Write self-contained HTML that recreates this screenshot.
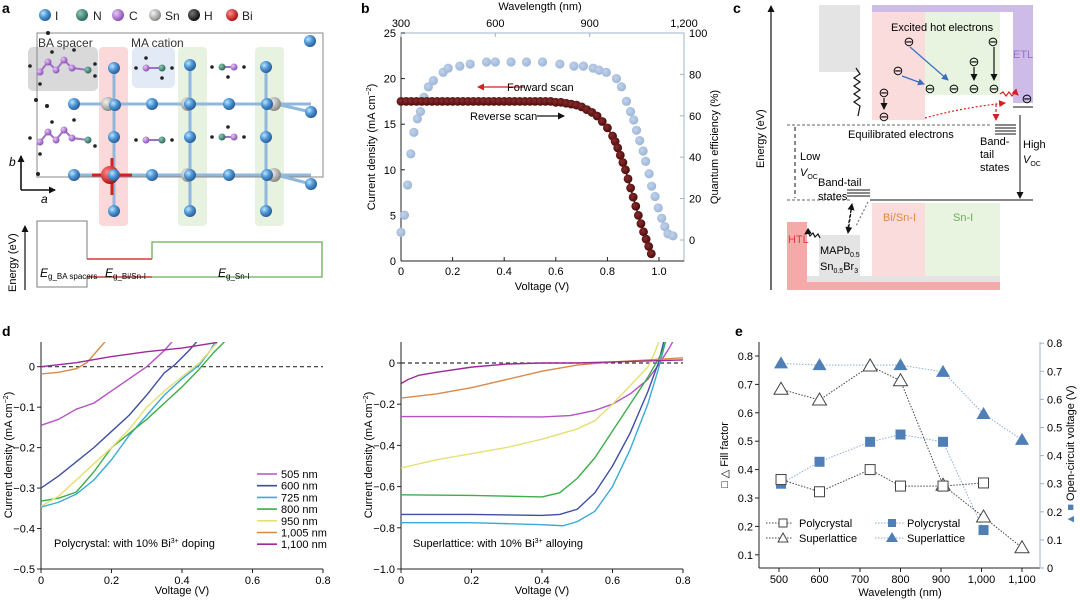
<!DOCTYPE html>
<html><head><meta charset="utf-8"><style>
body{margin:0;background:#fff}
svg{display:block;font-family:"Liberation Sans",sans-serif}
</style></head><body>
<svg id="fig" width="1080" height="601" viewBox="0 0 1080 601" xmlns="http://www.w3.org/2000/svg">
<defs>
<radialGradient id="gI" cx="35%" cy="35%" r="65%"><stop offset="0" stop-color="#bfe3ff"/><stop offset="0.5" stop-color="#4f9ad8"/><stop offset="1" stop-color="#2c5f9a"/></radialGradient>
<radialGradient id="gSn" cx="35%" cy="35%" r="65%"><stop offset="0" stop-color="#f4f4f4"/><stop offset="1" stop-color="#8a8a84"/></radialGradient>
<radialGradient id="gBi" cx="35%" cy="35%" r="65%"><stop offset="0" stop-color="#ff8a8a"/><stop offset="1" stop-color="#b01010"/></radialGradient>
<radialGradient id="gN" cx="35%" cy="35%" r="65%"><stop offset="0" stop-color="#8fc8b8"/><stop offset="1" stop-color="#2a6a5c"/></radialGradient>
<radialGradient id="gC" cx="35%" cy="35%" r="65%"><stop offset="0" stop-color="#e6c8f5"/><stop offset="1" stop-color="#8a50b8"/></radialGradient>
<radialGradient id="gH" cx="35%" cy="35%" r="65%"><stop offset="0" stop-color="#777"/><stop offset="1" stop-color="#111"/></radialGradient>
<radialGradient id="gQ" cx="40%" cy="40%" r="60%"><stop offset="0" stop-color="#c2d3ea"/><stop offset="1" stop-color="#9db6d8"/></radialGradient>
<radialGradient id="gR" cx="40%" cy="40%" r="60%"><stop offset="0" stop-color="#8a2c2c"/><stop offset="1" stop-color="#4a0c0c"/></radialGradient>
<clipPath id="clipDL"><rect x="41" y="342" width="290" height="230"/></clipPath>
<clipPath id="clipDR"><rect x="401" y="342" width="290" height="230"/></clipPath>
<marker id="arK" markerUnits="userSpaceOnUse" markerWidth="7" markerHeight="7" refX="6" refY="3.5" orient="auto"><path d="M0,0 L7,3.5 L0,7 z" fill="#111"/></marker>
<marker id="arR" markerUnits="userSpaceOnUse" markerWidth="7" markerHeight="7" refX="6" refY="3.5" orient="auto"><path d="M0,0 L7,3.5 L0,7 z" fill="#d42020"/></marker>
<marker id="arB" markerUnits="userSpaceOnUse" markerWidth="7" markerHeight="7" refX="6" refY="3.5" orient="auto"><path d="M0,0 L7,3.5 L0,7 z" fill="#3a6fc0"/></marker>
</defs>

<!-- ============ PANEL A ============ -->
<g id="panelA">
<text x="2" y="13" font-size="14" font-weight="bold">a</text>
<g font-size="12" fill="#222">
<circle cx="45" cy="15" r="6" fill="url(#gI)"/><text x="55" y="20">I</text>
<circle cx="82" cy="15" r="6" fill="url(#gN)"/><text x="93" y="20">N</text>
<circle cx="118" cy="15" r="6" fill="url(#gC)"/><text x="129" y="20">C</text>
<circle cx="155" cy="15" r="6" fill="url(#gSn)"/><text x="165" y="20">Sn</text>
<circle cx="194" cy="15" r="6" fill="url(#gH)"/><text x="204" y="20">H</text>
<circle cx="232" cy="15" r="6" fill="url(#gBi)"/><text x="242" y="20">Bi</text>
</g>
<rect x="28" y="47" width="70" height="44" rx="5" fill="#d9d9d9"/>
<rect x="99" y="47" width="29" height="179" rx="4" fill="#fbd9da"/>
<rect x="132" y="47" width="43" height="41" rx="5" fill="#e2eaf6"/>
<rect x="178" y="47" width="29" height="179" rx="4" fill="#e7f2e1"/>
<rect x="255" y="47" width="29" height="179" rx="4" fill="#e7f2e1"/>
<rect x="37" y="33" width="286" height="144" fill="none" stroke="#888" stroke-width="1"/>
<text x="38" y="47" font-size="12" fill="#333">BA spacer</text>
<text x="131" y="47" font-size="12" fill="#333">MA cation</text>
<g stroke="#8fb8dc" stroke-width="3">
<line x1="74" y1="104" x2="311" y2="104"/><line x1="74" y1="175" x2="311" y2="175"/>
<line x1="114" y1="68" x2="114" y2="211"/><line x1="190" y1="65" x2="190" y2="211"/><line x1="266" y1="67" x2="266" y2="211"/>
<line x1="276" y1="104" x2="311" y2="112"/><line x1="276" y1="175" x2="311" y2="184"/>
</g>
<g stroke="#d42020" stroke-width="3"><line x1="92" y1="175" x2="132" y2="175"/><line x1="112" y1="158" x2="112" y2="195"/></g>
<g>
<circle cx="108" cy="104" r="7" fill="url(#gSn)"/><circle cx="188" cy="104" r="7" fill="url(#gSn)"/><circle cx="274" cy="104" r="7" fill="url(#gSn)"/>
<circle cx="188" cy="175" r="7" fill="url(#gSn)"/><circle cx="274" cy="175" r="7" fill="url(#gSn)"/>
<circle cx="110" cy="175" r="9" fill="url(#gBi)"/>
</g>
<g fill="url(#gI)">
<circle cx="310" cy="41" r="6"/><circle cx="114" cy="68" r="6"/><circle cx="190" cy="65" r="6"/><circle cx="266" cy="67" r="6"/>
<circle cx="74" cy="104" r="6"/><circle cx="115" cy="105" r="6"/><circle cx="152" cy="104" r="6"/><circle cx="190" cy="104" r="6"/><circle cx="229" cy="104" r="6"/><circle cx="267" cy="104" r="6"/><circle cx="311" cy="112" r="6"/>
<circle cx="114" cy="137" r="6"/><circle cx="190" cy="137" r="6"/><circle cx="266" cy="137" r="6"/>
<circle cx="74" cy="175" r="6"/><circle cx="114" cy="175" r="6"/><circle cx="152" cy="175" r="6"/><circle cx="190" cy="175" r="6"/><circle cx="229" cy="175" r="6"/><circle cx="267" cy="175" r="6"/><circle cx="311" cy="184" r="6"/>
<circle cx="114" cy="211" r="6"/><circle cx="190" cy="211" r="6"/><circle cx="266" cy="211" r="6"/>
</g>
<g>
<g stroke="#a070c8" stroke-width="2"><polyline points="40,72 48,62 56,70 64,60 72,68 88,70" fill="none"/><polyline points="40,142 48,132 56,140 64,130 72,138 88,140" fill="none"/>
<line x1="146" y1="68" x2="162" y2="68"/><line x1="146" y1="140" x2="162" y2="140"/><line x1="222" y1="67" x2="234" y2="67"/><line x1="222" y1="137" x2="234" y2="137"/></g>
<g fill="url(#gC)"><circle cx="40" cy="72" r="3.5"/><circle cx="48" cy="62" r="3.5"/><circle cx="56" cy="70" r="3.5"/><circle cx="64" cy="60" r="3.5"/><circle cx="72" cy="68" r="3.5"/>
<circle cx="40" cy="142" r="3.5"/><circle cx="48" cy="132" r="3.5"/><circle cx="56" cy="140" r="3.5"/><circle cx="64" cy="130" r="3.5"/><circle cx="72" cy="138" r="3.5"/>
<circle cx="146" cy="68" r="3.5"/><circle cx="146" cy="140" r="3.5"/><circle cx="234" cy="67" r="3.5"/><circle cx="234" cy="137" r="3.5"/></g>
<g fill="url(#gN)"><circle cx="88" cy="70" r="3.5"/><circle cx="88" cy="140" r="3.5"/><circle cx="162" cy="68" r="3.5"/><circle cx="162" cy="140" r="3.5"/><circle cx="222" cy="67" r="3.5"/><circle cx="222" cy="137" r="3.5"/></g>
<g fill="#222"><circle cx="48" cy="33" r="2"/><circle cx="36" cy="100" r="2"/><circle cx="47" cy="106" r="2"/><circle cx="38" cy="174" r="2"/><circle cx="30" cy="66" r="1.8"/><circle cx="52" cy="52" r="1.8"/><circle cx="74" cy="50" r="1.8"/><circle cx="95" cy="76" r="1.8"/><circle cx="95" cy="64" r="1.8"/><circle cx="40" cy="84" r="1.8"/><circle cx="30" cy="138" r="1.8"/><circle cx="52" cy="122" r="1.8"/><circle cx="74" cy="120" r="1.8"/><circle cx="95" cy="146" r="1.8"/><circle cx="40" cy="154" r="1.8"/><circle cx="136" cy="68" r="1.8"/><circle cx="172" cy="68" r="1.8"/><circle cx="146" cy="58" r="1.8"/><circle cx="162" cy="78" r="1.8"/><circle cx="136" cy="140" r="1.8"/><circle cx="172" cy="140" r="1.8"/><circle cx="212" cy="67" r="1.8"/><circle cx="244" cy="67" r="1.8"/><circle cx="212" cy="137" r="1.8"/><circle cx="244" cy="137" r="1.8"/><circle cx="228" cy="77" r="1.8"/><circle cx="228" cy="127" r="1.8"/></g>
</g>
<g stroke="#111" stroke-width="1.6"><line x1="21" y1="190" x2="21" y2="156" marker-end="url(#arK)"/><line x1="21" y1="190" x2="55" y2="190" marker-end="url(#arK)"/></g>
<text x="9" y="166" font-size="12" font-style="italic">b</text><text x="41" y="203" font-size="12" font-style="italic">a</text>
<g>
<line x1="25" y1="290" x2="25" y2="226" stroke="#111" stroke-width="1.2" marker-end="url(#arK)"/>
<text transform="translate(16,292) rotate(-90)" font-size="11">Energy (eV)</text>
<path d="M87,259 L87,221 L37,221 L37,287 L87,287 L87,277" fill="none" stroke="#999" stroke-width="1.3"/>
<path d="M87,259 L152,259 M87,277 L152,277" stroke="#d23a3a" stroke-width="1.6"/>
<path d="M152,259 L152,242 L322,242 L322,277 L152,277" fill="none" stroke="#6aae58" stroke-width="1.3"/>
<text x="40" y="277" font-size="12" font-style="italic">E<tspan font-size="8" dy="2" font-style="normal">g_BA spacers</tspan></text>
<text x="105" y="277" font-size="12" font-style="italic">E<tspan font-size="8" dy="2" font-style="normal">g_Bi/Sn-I</tspan></text>
<text x="218" y="277" font-size="12" font-style="italic">E<tspan font-size="8" dy="2" font-style="normal">g_Sn-I</tspan></text>
</g>
</g>

<!-- ============ PANEL B ============ -->
<g id="panelB">
<text x="361" y="13" font-size="14" font-weight="bold">b</text>
<rect x="401" y="33" width="283" height="228" fill="none" stroke="#9eb4cc" stroke-width="1"/>
<line x1="401" y1="33" x2="401" y2="261" stroke="#222"/>
<line x1="401" y1="261" x2="684" y2="261" stroke="#222"/>
<text x="540" y="10" font-size="11" text-anchor="middle">Wavelength (nm)</text>
<text x="542" y="290" font-size="11" text-anchor="middle">Voltage (V)</text>
<text transform="translate(375,147) rotate(-90)" font-size="11" text-anchor="middle">Current density (mA cm<tspan font-size="7" dy="-4">−2</tspan><tspan dy="4">)</tspan></text>
<text transform="translate(718,147) rotate(-90)" font-size="11" text-anchor="middle">Quantum efficiency (%)</text>
<g id="bTicks"></g>
<g id="bQE"></g>
<g id="bJV"></g>
<line x1="525" y1="87" x2="478" y2="87" stroke="#d42020" stroke-width="1.3" marker-end="url(#arR)"/>
<text x="507" y="91" font-size="11">Forward scan</text>
<text x="470" y="120" font-size="11">Reverse scan</text>
<line x1="537" y1="116" x2="564" y2="116" stroke="#111" stroke-width="1.3" marker-end="url(#arK)"/>
</g>

<!-- ============ PANEL C ============ -->
<g id="panelC">
<text x="733" y="13" font-size="14" font-weight="bold">c</text>
<line x1="771" y1="290" x2="771" y2="6" stroke="#111" stroke-width="1.2" marker-end="url(#arK)"/>
<text transform="translate(764,168) rotate(-90)" font-size="11">Energy (eV)</text>
<rect x="819" y="5" width="41" height="67" fill="#e4e4e4"/>
<rect x="872" y="5" width="141" height="7" fill="#cdbbe8"/>
<rect x="1013" y="5" width="20" height="98" fill="#cdbbe8"/>
<rect x="872" y="12" width="53" height="108" fill="#fbdcdc"/>
<rect x="925" y="12" width="75" height="83" fill="#e8f3e0"/>
<rect x="787" y="222" width="20" height="68" fill="#f6a9a9"/>
<rect x="787" y="282" width="213" height="8" fill="#f6a9a9"/>
<rect x="807" y="276" width="193" height="6" fill="#e4e4e4"/>
<rect x="819" y="235" width="41" height="41" fill="#e4e4e4"/>
<rect x="872" y="203" width="53" height="73" fill="#fbdcdc"/>
<rect x="925" y="203" width="75" height="73" fill="#e8f3e0"/>
<text x="891" y="31" font-size="11">Excited hot electrons</text>
<text x="1013" y="58" font-size="11" fill="#9a70c8">ETL</text>
<text x="788" y="243" font-size="11" fill="#e03a3a">HTL</text>
<text x="883" y="221" font-size="11" fill="#e08a40">Bi/Sn-I</text>
<text x="953" y="221" font-size="11" fill="#6aae58">Sn-I</text>
<text x="820" y="254" font-size="11">MAPb<tspan font-size="7" dy="3">0.5</tspan></text>
<text x="820" y="270" font-size="11">Sn<tspan font-size="7" dy="3">0.5</tspan><tspan dy="-3">Br</tspan><tspan font-size="7" dy="3">3</tspan></text>
<g font-size="13" text-anchor="middle">
<text x="909" y="46">⊖</text><text x="898" y="75">⊖</text><text x="993" y="46">⊖</text><text x="974" y="66">⊖</text>
<text x="930" y="93">⊖</text><text x="954" y="93">⊖</text><text x="974" y="93">⊖</text><text x="994" y="93">⊖</text>
<text x="884" y="97">⊖</text><text x="884" y="121">⊖</text><text x="1027" y="103">⊖</text>
</g>
<g stroke-width="1.2" fill="none">
<line x1="910" y1="47" x2="948" y2="80" stroke="#3a6fc0" marker-end="url(#arB)"/>
<line x1="902" y1="76" x2="924" y2="84" stroke="#3a6fc0" marker-end="url(#arB)"/>
<line x1="974" y1="67" x2="974" y2="80" stroke="#111" marker-end="url(#arK)"/>
<line x1="994" y1="47" x2="994" y2="80" stroke="#111" marker-end="url(#arK)"/>
<line x1="884" y1="98" x2="884" y2="109" stroke="#111" marker-end="url(#arK)"/>
<path d="M856,68 l4,6 -6,4 6,4 -6,4 6,4 -6,4 6,4 -6,4 6,4 l-2,10" stroke="#111"/>
<path d="M925,118 Q960,108 1005,103" stroke="#d42020" stroke-dasharray="2,2" marker-end="url(#arR)"/>
<path d="M1000,94 l3,-2 3,4 3,-4 3,4 3,-4 3,3" stroke="#d42020" stroke-width="1.2" marker-end="url(#arR)"/>
<line x1="996" y1="104" x2="996" y2="120" stroke="#d42020" stroke-dasharray="3,2" marker-end="url(#arR)"/>
<line x1="852" y1="204" x2="848" y2="233" stroke="#111" stroke-dasharray="3,2" marker-end="url(#arK)"/>
<line x1="848" y1="228" x2="852" y2="204" stroke="#111" stroke-dasharray="3,2" marker-end="url(#arK)"/>
<path d="M868,202 l-4,8 -4,8 -4,8" stroke="#777" stroke-dasharray="2,2"/>
<path d="M820,238 l-2,-4 -3,3 -2,-4 -3,3 -2,-4 -3,2" stroke="#111" stroke-width="1.2" marker-end="url(#arK)"/>
</g>
<line x1="787" y1="125" x2="990" y2="125" stroke="#666" stroke-dasharray="3,2"/>
<text x="848" y="138" font-size="11">Equilibrated electrons</text>
<g stroke="#111"><line x1="995" y1="125" x2="1016" y2="125"/><line x1="995" y1="128" x2="1016" y2="128"/><line x1="995" y1="131" x2="1016" y2="131"/><line x1="995" y1="134" x2="1016" y2="134"/>
<line x1="847" y1="190" x2="870" y2="190"/><line x1="847" y1="193" x2="870" y2="193"/><line x1="847" y1="196" x2="870" y2="196"/></g>
<line x1="787" y1="200" x2="850" y2="200" stroke="#666" stroke-dasharray="3,2"/>
<line x1="870" y1="200" x2="1033" y2="200" stroke="#111"/>
<line x1="1013" y1="107" x2="1033" y2="107" stroke="#111"/>
<line x1="795" y1="127" x2="795" y2="198" stroke="#111" stroke-dasharray="4,3"/>
<line x1="1020" y1="115" x2="1020" y2="198" stroke="#111" marker-end="url(#arK)"/>
<text x="800" y="160" font-size="11">Low</text><text x="800" y="176" font-size="11" font-style="italic">V<tspan font-size="7" dy="3" font-style="normal">OC</tspan></text>
<text x="1023" y="148" font-size="11">High</text><text x="1023" y="163" font-size="11" font-style="italic">V<tspan font-size="7" dy="3" font-style="normal">OC</tspan></text>
<text x="980" y="145" font-size="11">Band-</text><text x="980" y="158" font-size="11">tail</text><text x="980" y="171" font-size="11">states</text>
<text x="818" y="186" font-size="11">Band-tail</text><text x="818" y="200" font-size="11">states</text>
</g>

<!-- ============ PANEL D ============ -->
<g id="panelD">
<text x="2" y="336" font-size="14" font-weight="bold">d</text>
<line x1="41" y1="342" x2="41" y2="569" stroke="#222"/>
<line x1="41" y1="569" x2="323" y2="569" stroke="#222"/>
<line x1="401" y1="342" x2="401" y2="569" stroke="#222"/>
<line x1="401" y1="569" x2="683" y2="569" stroke="#222"/>
<g id="dTicks"></g>
<g id="dLeft" clip-path="url(#clipDL)"></g>
<g id="dRight" clip-path="url(#clipDR)"></g>
<g id="dLegend"></g>
<text x="182" y="594" font-size="11" text-anchor="middle">Voltage (V)</text>
<text x="542" y="594" font-size="11" text-anchor="middle">Voltage (V)</text>
<text transform="translate(12,455) rotate(-90)" font-size="11" text-anchor="middle">Current density (mA cm<tspan font-size="7" dy="-4">−2</tspan><tspan dy="4">)</tspan></text>
<text transform="translate(372,455) rotate(-90)" font-size="11" text-anchor="middle">Current density (mA cm<tspan font-size="7" dy="-4">−2</tspan><tspan dy="4">)</tspan></text>
<text x="54" y="547" font-size="11">Polycrystal: with 10% Bi<tspan font-size="7" dy="-4">3+</tspan><tspan dy="4"> doping</tspan></text>
<text x="413" y="547" font-size="11">Superlattice: with 10% Bi<tspan font-size="7" dy="-4">3+</tspan><tspan dy="4"> alloying</tspan></text>
</g>

<!-- ============ PANEL E ============ -->
<g id="panelE">
<text x="735" y="336" font-size="14" font-weight="bold">e</text>
<line x1="759" y1="342" x2="759" y2="568" stroke="#222"/>
<line x1="759" y1="568" x2="1040" y2="568" stroke="#222"/>
<line x1="1040" y1="342" x2="1040" y2="568" stroke="#9eb4cc"/>
<g id="eTicks"></g>
<g id="eMarks"></g>
<text x="900" y="596" font-size="11" text-anchor="middle">Wavelength (nm)</text>
<text transform="translate(728,455) rotate(-90)" font-size="11" text-anchor="middle">□ △ Fill factor</text>
<text transform="translate(1074,455) rotate(-90)" font-size="11" text-anchor="middle"><tspan fill="#4f7fb5">▲ ■</tspan> Open-circuit voltage (V)</text>
<g font-size="11">
<line x1="766" y1="523" x2="792" y2="523" stroke="#444" stroke-dasharray="1.5,1.5"/><rect x="779" y="519" width="8" height="8" fill="#fff" stroke="#444"/><text x="799" y="527">Polycrystal</text>
<line x1="766" y1="538" x2="792" y2="538" stroke="#444" stroke-dasharray="1.5,1.5"/><path d="M783,533 l5,9 h-10 z" fill="#fff" stroke="#444"/><text x="799" y="542">Superlattice</text>
<line x1="875" y1="523" x2="905" y2="523" stroke="#8aaed4" stroke-dasharray="1.5,1.5"/><rect x="888" y="519" width="8" height="8" fill="#4f7fb5"/><text x="907" y="527">Polycrystal</text>
<line x1="875" y1="538" x2="905" y2="538" stroke="#8aaed4" stroke-dasharray="1.5,1.5"/><path d="M892,532 l6,10 h-12 z" fill="#4f7fb5"/><text x="907" y="542">Superlattice</text>
</g>
</g>
</svg>

<script>
// ---------- Panel b data ----------
const qeWavelength = [300,311,321,331,341,352,362,373,387,403,434,450,487,520,572,600,650,699,750,805,850,880,911,930,953,985,1001,1017,1030,1040,1049,1059,1070,1078,1089,1097,1108,1118,1129,1139,1149,1165];
const qeValues =     [3.7,12,26.6,41.6,52,58.5,62,69,74,77,81,83,84,85,86,86,86,86,86,85,84,84,83,82,81,78,74,67,62,58,53,48,43,38,32,26,21,15.5,10.5,6.5,3,2];
const jvVoltage = [0,0.02,0.04,0.06,0.08,0.1,0.12,0.14,0.16,0.18,0.2,0.22,0.24,0.26,0.28,0.3,0.32,0.34,0.36,0.38,0.4,0.42,0.44,0.46,0.48,0.5,0.52,0.54,0.56,0.58,0.6,0.62,0.64,0.66,0.68,0.7,0.72,0.74,0.76,0.78,0.8,0.82,0.83,0.84,0.85,0.86,0.87,0.88,0.89,0.9,0.91,0.92,0.93,0.94,0.95,0.96,0.97];
const jvCurrent = [17.5,17.5,17.5,17.5,17.5,17.5,17.5,17.5,17.5,17.5,17.5,17.5,17.5,17.5,17.5,17.5,17.5,17.5,17.5,17.5,17.5,17.5,17.5,17.5,17.5,17.5,17.5,17.5,17.5,17.5,17.4,17.4,17.3,17.2,17.1,16.9,16.6,16.3,15.9,15.3,14.6,13.7,13.1,12.4,11.6,10.8,10,9,8,7,6,5,4.1,3.2,2.4,1.6,0.8];
const bXTicks = [0,0.2,0.4,0.6,0.8,1.0];
const bXTickLabels = ["0","0.2","0.4","0.6","0.8","1.0"];
const bYTicks = [0,5,10,15,20,25];
const bY2Ticks = [0,20,40,60,80,100];
const bTopTicks = [300,600,900,1200];
const bTopLabels = ["300","600","900","1,200"];

// ---------- Panel d data ----------
const dWavelengthLabels = ["505 nm","600 nm","725 nm","800 nm","950 nm","1,005 nm","1,100 nm"];
const dColors = ["#b452c4","#3e50a0","#3aaad8","#3cae48","#e6df72","#d98a48","#9c2a98"];
const dlV = [
 [0,0.05,0.1,0.15,0.2,0.25,0.3,0.35,0.37,0.4],
 [0,0.05,0.1,0.15,0.2,0.25,0.3,0.35,0.38,0.42,0.45],
 [0,0.05,0.1,0.15,0.2,0.25,0.3,0.35,0.4,0.45,0.48,0.5],
 [0,0.05,0.1,0.15,0.2,0.25,0.3,0.35,0.4,0.45,0.49,0.53],
 [0,0.05,0.1,0.15,0.2,0.25,0.3,0.35,0.4,0.45,0.48,0.51],
 [0,0.05,0.1,0.13,0.16,0.19],
 [0,0.1,0.2,0.3,0.4,0.5]];
const dlJ = [
 [-0.145,-0.13,-0.105,-0.09,-0.06,-0.03,0,0.04,0.06,0.09],
 [-0.30,-0.27,-0.235,-0.2,-0.16,-0.12,-0.07,-0.015,0.005,0.04,0.07],
 [-0.347,-0.335,-0.315,-0.28,-0.23,-0.17,-0.12,-0.07,-0.03,0.005,0.04,0.07],
 [-0.332,-0.325,-0.31,-0.26,-0.2,-0.165,-0.13,-0.09,-0.05,-0.005,0.035,0.07],
 [-0.345,-0.32,-0.28,-0.24,-0.2,-0.155,-0.1,-0.06,-0.025,0.01,0.04,0.07],
 [-0.018,-0.014,-0.005,0.01,0.04,0.07],
 [0,0.01,0.025,0.037,0.046,0.06]];
const drV = [
 [0,0.2,0.4,0.48,0.55,0.6,0.65,0.7,0.73,0.76,0.78],
 [0,0.2,0.4,0.45,0.5,0.55,0.6,0.65,0.7,0.73,0.745,0.76],
 [0,0.2,0.4,0.46,0.5,0.55,0.6,0.65,0.7,0.73,0.75,0.76],
 [0,0.2,0.4,0.45,0.5,0.55,0.6,0.65,0.7,0.74,0.76],
 [0,0.1,0.2,0.3,0.4,0.5,0.55,0.6,0.65,0.7,0.72,0.74],
 [0,0.1,0.2,0.3,0.4,0.5,0.6,0.7,0.8],
 [0,0.02,0.05,0.1,0.2,0.3,0.4,0.5,0.6,0.7,0.8]];
const drJ = [
 [-0.26,-0.26,-0.262,-0.255,-0.23,-0.2,-0.15,-0.08,-0.01,0.07,0.13],
 [-0.735,-0.735,-0.74,-0.735,-0.71,-0.63,-0.5,-0.34,-0.14,0,0.1,0.15],
 [-0.775,-0.775,-0.785,-0.79,-0.77,-0.72,-0.6,-0.42,-0.2,-0.03,0.1,0.15],
 [-0.64,-0.643,-0.65,-0.63,-0.56,-0.46,-0.33,-0.2,-0.07,0.05,0.15],
 [-0.51,-0.47,-0.44,-0.41,-0.37,-0.32,-0.28,-0.2,-0.11,-0.02,0.05,0.15],
 [-0.17,-0.15,-0.12,-0.08,-0.04,-0.01,0.005,0.015,0.025],
 [-0.1,-0.08,-0.06,-0.045,-0.02,-0.005,0,0,0.005,0.01,0.015]];
const dXTicks = [0,0.2,0.4,0.6,0.8];
const dXTickLabels = ["0","0.2","0.4","0.6","0.8"];
const dlYTicks = [0,-0.1,-0.2,-0.3,-0.4,-0.5];
const dlYTickLabels = ["0","−0.1","−0.2","−0.3","−0.4","−0.5"];
const drYTicks = [0,-0.2,-0.4,-0.6,-0.8,-1.0];
const drYTickLabels = ["0","−0.2","−0.4","−0.6","−0.8","−1.0"];

// ---------- Panel e data ----------
const ffPolyWl = [505,600,725,800,905,1005];
const ffPoly = [0.365,0.322,0.4,0.342,0.342,0.353];
const ffSuperWl = [505,600,725,800,905,1005,1100];
const ffSuper = [0.683,0.645,0.765,0.713,0.345,0.233,0.125];
const vocPolyWl = [505,600,725,800,905,1005];
const vocPoly = [0.3,0.378,0.449,0.475,0.449,0.135];
const vocSuperWl = [505,600,725,800,905,1005,1100];
const vocSuper = [0.728,0.722,0.722,0.722,0.698,0.548,0.456];
const eXTicks = [500,600,700,800,900,1000,1100];
const eXTickLabels = ["500","600","700","800","900","1,000","1,100"];
const eYTicks = [0.1,0.2,0.3,0.4,0.5,0.6,0.7,0.8];
const eY2Ticks = [0,0.1,0.2,0.3,0.4,0.5,0.6,0.7,0.8];

const NS = "http://www.w3.org/2000/svg";
function mk(parent, tag, attrs, txt){
  const e = document.createElementNS(NS, tag);
  for (const k in attrs) e.setAttribute(k, attrs[k]);
  if (txt !== undefined) e.textContent = txt;
  parent.appendChild(e); return e;
}
const fmt = v => String(v);

const bxV = v => 401 + v*258, byJ = j => 261 - j*9.12;
const bxW = w => 401 + (w-300)/900*283, byQ = q => 240 - q*2.07;
const dlx = v => 41 + v*352.5, dly = j => 366.7 - j*404.6;
const drx = v => 401 + v*352.5, dry = j => 363 - j*206;
const ex = w => 779 + (w-500)*0.405, eyL = f => 356 - (f-0.8)*284, eyR = v => 568 - v*281;

const bt = document.getElementById('bTicks');
bXTicks.forEach((t,i)=>{ const x=bxV(t);
  let l=mk(bt,'line',{x1:x,y1:261,x2:x,y2:257,stroke:'#222'});  
  let tx=mk(bt,'text',{x:x,y:275,'font-size':11,'text-anchor':'middle'},bXTickLabels[i]);  });
bYTicks.forEach(t=>{ const y=byJ(t);
  let l=mk(bt,'line',{x1:401,y1:y,x2:405,y2:y,stroke:'#222'});  
  let tx=mk(bt,'text',{x:396,y:y+4,'font-size':11,'text-anchor':'end'},fmt(t));  });
bY2Ticks.forEach(t=>{ const y=byQ(t);
  let l=mk(bt,'line',{x1:684,y1:y,x2:680,y2:y,stroke:'#9eb4cc'});  
  let tx=mk(bt,'text',{x:689,y:y+4,'font-size':11},fmt(t));  });
bTopTicks.forEach((t,i)=>{ const x=bxW(t);
  let l=mk(bt,'line',{x1:x,y1:33,x2:x,y2:37,stroke:'#9eb4cc'});  
  let tx=mk(bt,'text',{x:x,y:27,'font-size':11,'text-anchor':'middle'},bTopLabels[i]);  });

const bq = document.getElementById('bQE');
qeWavelength.forEach((w,i)=>{
  const c=mk(bq,'circle',{cx:bxW(w),cy:byQ(qeValues[i]),r:4.6,fill:'url(#gQ)'});
   
});
const bj = document.getElementById('bJV');
const jvLine = mk(bj,'polyline',{points:jvVoltage.map((v,i)=>bxV(v)+','+byJ(jvCurrent[i])).join(' '),fill:'none',stroke:'#3a0808','stroke-width':1.5});
 
jvVoltage.forEach((v,i)=>{
  const c=mk(bj,'circle',{cx:bxV(v),cy:byJ(jvCurrent[i]),r:4.4,fill:'url(#gR)'});
   
});

const dt = document.getElementById('dTicks');
dXTicks.forEach((t,i)=>{
  [dlx,drx].forEach(fx=>{ const x=fx(t);
    let l=mk(dt,'line',{x1:x,y1:569,x2:x,y2:573,stroke:'#222'});  
    let tx=mk(dt,'text',{x:x,y:584,'font-size':11,'text-anchor':'middle'},dXTickLabels[i]);  
  });
});
dlYTicks.forEach((t,i)=>{ const y=dly(t);
  let l=mk(dt,'line',{x1:37,y1:y,x2:41,y2:y,stroke:'#222'});  
  let tx=mk(dt,'text',{x:35,y:y+4,'font-size':11,'text-anchor':'end'},dlYTickLabels[i]);  });
drYTicks.forEach((t,i)=>{ const y=dry(t);
  let l=mk(dt,'line',{x1:397,y1:y,x2:401,y2:y,stroke:'#222'});  
  let tx=mk(dt,'text',{x:395,y:y+4,'font-size':11,'text-anchor':'end'},drYTickLabels[i]);  });
let z1=mk(dt,'line',{x1:41,y1:dly(0),x2:323,y2:dly(0),stroke:'#333','stroke-dasharray':'4,3','stroke-width':1.2});
 
let z2=mk(dt,'line',{x1:401,y1:dry(0),x2:683,y2:dry(0),stroke:'#333','stroke-dasharray':'4,3','stroke-width':1.2});
 

const dL = document.getElementById('dLeft'), dR = document.getElementById('dRight');
dlV.forEach((vs,s)=>{
  const p=mk(dL,'polyline',{points:vs.map((v,i)=>dlx(v)+','+dly(dlJ[s][i])).join(' '),fill:'none',stroke:dColors[s],'stroke-width':1.4,'stroke-linejoin':'round'});
   
});
drV.forEach((vs,s)=>{
  const p=mk(dR,'polyline',{points:vs.map((v,i)=>drx(v)+','+dry(drJ[s][i])).join(' '),fill:'none',stroke:dColors[s],'stroke-width':1.4,'stroke-linejoin':'round'});
   
});
const dLg = document.getElementById('dLegend');
dWavelengthLabels.forEach((lab,i)=>{ const y=474+i*11.7;
  const l=mk(dLg,'line',{x1:257,y1:y,x2:277,y2:y,stroke:dColors[i],'stroke-width':1.6});
   
  const t=mk(dLg,'text',{x:281,y:y+4,'font-size':11},lab);
   
});

const et = document.getElementById('eTicks');
eXTicks.forEach((t,i)=>{ const x=ex(t);
  let l=mk(et,'line',{x1:x,y1:568,x2:x,y2:572,stroke:'#222'});  
  let tx=mk(et,'text',{x:x,y:583,'font-size':11,'text-anchor':'middle'},eXTickLabels[i]);  });
eYTicks.forEach(t=>{ const y=eyL(t);
  let l=mk(et,'line',{x1:755,y1:y,x2:759,y2:y,stroke:'#222'});  
  let tx=mk(et,'text',{x:753,y:y+4,'font-size':11,'text-anchor':'end'},t.toFixed(1));  });
eY2Ticks.forEach(t=>{ const y=eyR(t);
  let l=mk(et,'line',{x1:1040,y1:y,x2:1044,y2:y,stroke:'#9eb4cc'});  
  let tx=mk(et,'text',{x:1047,y:y+4,'font-size':11},t===0?'0':t.toFixed(1));  });

const em = document.getElementById('eMarks');
function eLine(ws, vals, fy, color, name){
  const p=mk(em,'polyline',{points:ws.map((w,i)=>ex(w)+','+fy(vals[i])).join(' '),fill:'none',stroke:color,'stroke-width':1,'stroke-dasharray':'1.5,1.5'});
   
}
eLine(vocSuperWl,vocSuper,eyR,'#8aaed4','voc-superlattice-line');
eLine(vocPolyWl,vocPoly,eyR,'#8aaed4','voc-polycrystal-line');
eLine(ffSuperWl,ffSuper,eyL,'#444','ff-superlattice-line');
eLine(ffPolyWl,ffPoly,eyL,'#444','ff-polycrystal-line');
vocSuperWl.forEach((w,i)=>{ const x=ex(w), y=eyR(vocSuper[i]);
  const m=mk(em,'path',{d:`M${x},${y-7} L${x+7},${y+5} L${x-7},${y+5} Z`,fill:'#4f7fb5'});
   });
vocPolyWl.forEach((w,i)=>{ const x=ex(w), y=eyR(vocPoly[i]);
  const m=mk(em,'rect',{x:x-5,y:y-5,width:10,height:10,fill:'#4f7fb5'});
   });
ffSuperWl.forEach((w,i)=>{ const x=ex(w), y=eyL(ffSuper[i]);
  const m=mk(em,'path',{d:`M${x},${y-7} L${x+7},${y+5} L${x-7},${y+5} Z`,fill:'#fff',stroke:'#444','stroke-width':1});
   });
ffPolyWl.forEach((w,i)=>{ const x=ex(w), y=eyL(ffPoly[i]);
  const m=mk(em,'rect',{x:x-5,y:y-5,width:10,height:10,fill:'#fff',stroke:'#444','stroke-width':1});
   });
</script>
</body></html>
